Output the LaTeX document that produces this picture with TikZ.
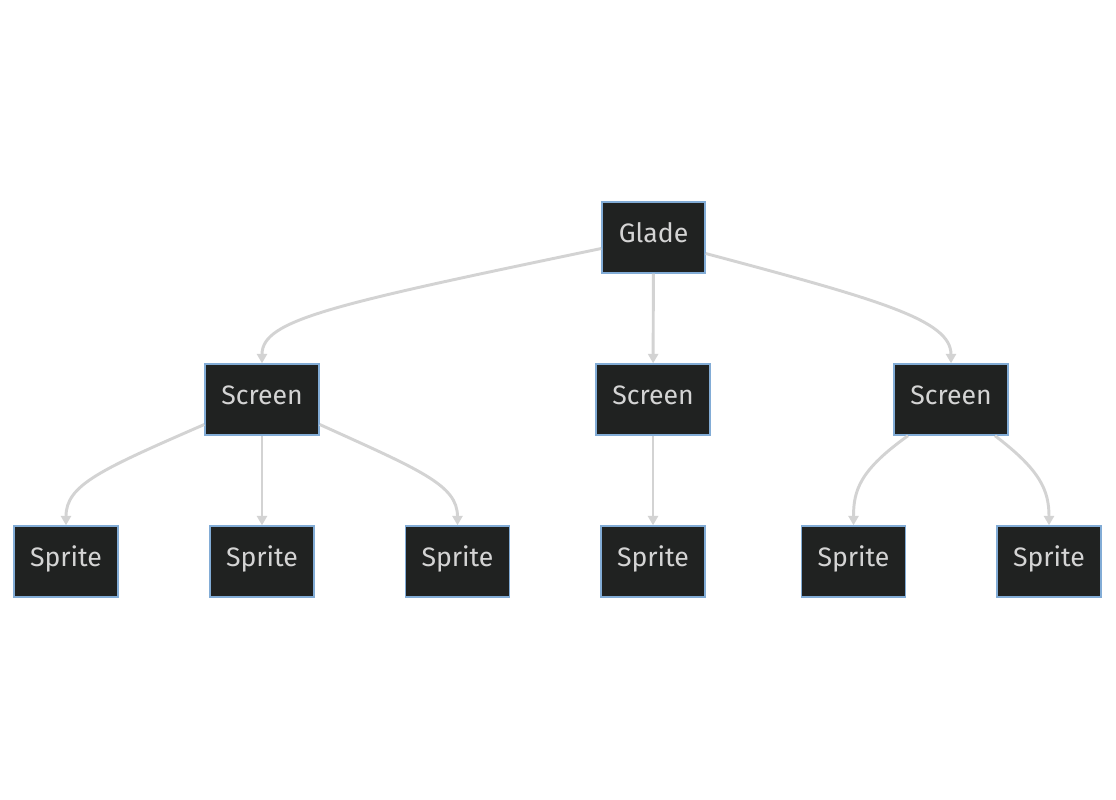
\documentclass[tikz,border=0pt]{standalone}
\usepackage{fontspec}
\setmainfont{Fira Sans}
\usetikzlibrary{arrows.meta}
\definecolor{nodefill}{HTML}{202221}
\definecolor{nodeborder}{HTML}{82ACD6}
\definecolor{nodetext}{HTML}{D4D4D4}
\definecolor{edgecol}{HTML}{D3D3D3}
\begin{document}
\begin{tikzpicture}[x=0.75pt,y=-0.75pt,
  box/.style={draw=nodeborder,fill=nodefill,line width=1.1pt,text=nodetext,
    minimum height=71*0.75pt,inner sep=0pt,text height=13.8pt,text depth=6.8pt,
    font=\fontsize{20pt}{24pt}\selectfont},
  glade/.style={box,minimum width=103*0.75pt},
  screen/.style={box,minimum width=114*0.75pt},
  sprite/.style={box,minimum width=104*0.75pt},
  edge/.style={draw=edgecol,line width=2.2pt,-{Triangle[length=7pt,width=7.5pt]}}]
\useasboundingbox (0,0) rectangle (1116,799);
\node[glade] (g) at (653.5,237.5) {Glade};
\node[screen] (s1) at (262,399.5) {Screen};
\node[screen] (s2) at (653,399.5) {Screen};
\node[screen] (s3) at (951,399.5) {Screen};
\node[sprite] (p1) at (66,561.5) {Sprite};
\node[sprite] (p2) at (262,561.5) {Sprite};
\node[sprite] (p3) at (457.5,561.5) {Sprite};
\node[sprite] (p4) at (653,561.5) {Sprite};
\node[sprite] (p5) at (853.5,561.5) {Sprite};
\node[sprite] (p6) at (1049,561.5) {Sprite};
\draw[edge] ([yshift=-11*0.75pt]g.west) .. controls (330,305) and (262,320) .. (s1.north);
\draw[edge] (g) -- (s2);
\draw[edge] ([yshift=-16*0.75pt]g.east) .. controls (880,300) and (951,320) .. (s3.north);
\draw[edge] ([yshift=-25*0.75pt]s1.west) .. controls (100,470) and (66,485) .. (p1.north);
\draw[edge] (s1) -- (p2);
\draw[edge] ([yshift=-25*0.75pt]s1.east) .. controls (420,470) and (457.5,485) .. (p3.north);
\draw[edge] (s2) -- (p4);
\draw[edge] ([xshift=-43*0.75pt]s3.south) .. controls (860,470) and (853.5,490) .. (p5.north);
\draw[edge] ([xshift=44*0.75pt]s3.south) .. controls (1040,470) and (1049,490) .. (p6.north);
\end{tikzpicture}
\end{document}
